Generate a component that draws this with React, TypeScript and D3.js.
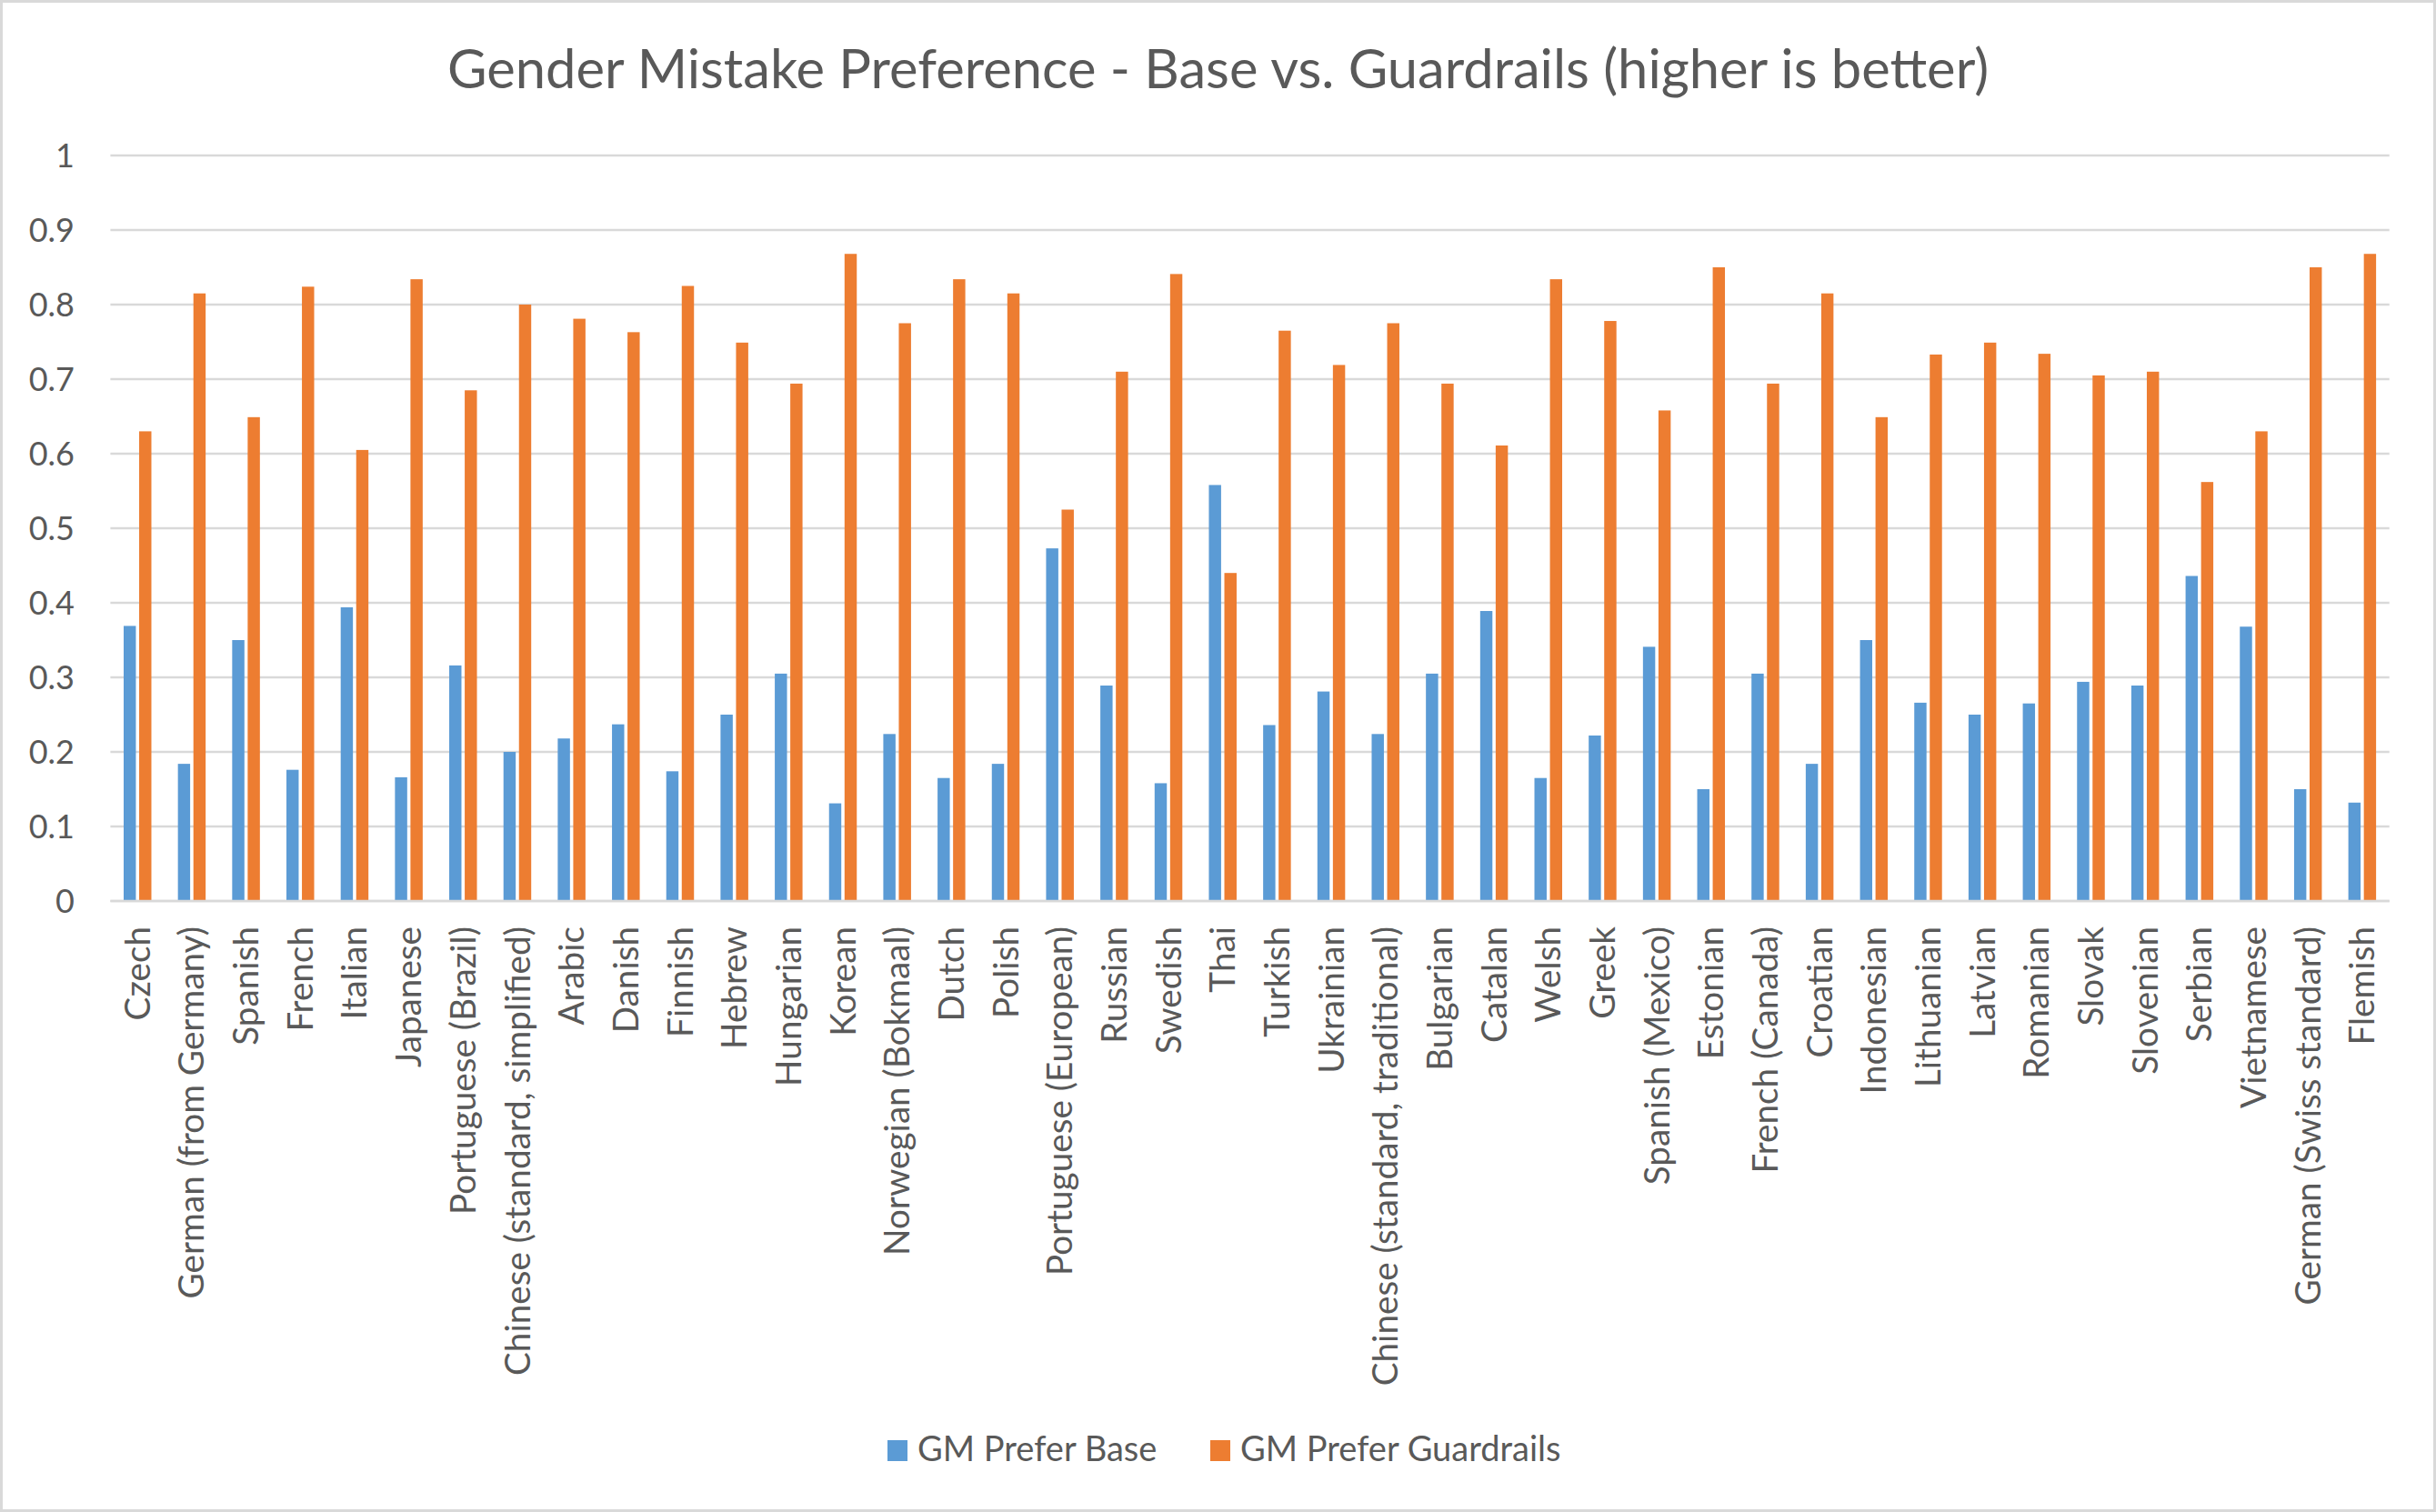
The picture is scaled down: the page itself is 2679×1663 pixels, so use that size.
import React from "react";
import * as d3 from "d3";

const categories = [
  "Czech", "German (from Germany)", "Spanish", "French", "Italian", "Japanese",
  "Portuguese (Brazil)", "Chinese (standard, simplified)", "Arabic", "Danish",
  "Finnish", "Hebrew", "Hungarian", "Korean", "Norwegian (Bokmaal)", "Dutch",
  "Polish", "Portuguese (European)", "Russian", "Swedish", "Thai", "Turkish",
  "Ukrainian", "Chinese (standard, traditional)", "Bulgarian", "Catalan", "Welsh",
  "Greek", "Spanish (Mexico)", "Estonian", "French (Canada)", "Croatian",
  "Indonesian", "Lithuanian", "Latvian", "Romanian", "Slovak", "Slovenian",
  "Serbian", "Vietnamese", "German (Swiss standard)", "Flemish",
];

const preferBase = [
  0.369, 0.184, 0.350, 0.176, 0.394, 0.166, 0.316, 0.200, 0.218, 0.237,
  0.174, 0.250, 0.305, 0.131, 0.224, 0.165, 0.184, 0.473, 0.289, 0.158,
  0.558, 0.236, 0.281, 0.224, 0.305, 0.389, 0.165, 0.222, 0.341, 0.150,
  0.305, 0.184, 0.350, 0.266, 0.250, 0.265, 0.294, 0.289, 0.436, 0.368,
  0.150, 0.132,
];

const preferGuardrails = [
  0.630, 0.815, 0.649, 0.824, 0.605, 0.834, 0.685, 0.800, 0.781, 0.763,
  0.825, 0.749, 0.694, 0.868, 0.775, 0.834, 0.815, 0.525, 0.710, 0.841,
  0.440, 0.765, 0.719, 0.775, 0.694, 0.611, 0.834, 0.778, 0.658, 0.850,
  0.694, 0.815, 0.649, 0.733, 0.749, 0.734, 0.705, 0.710, 0.562, 0.630,
  0.850, 0.868,
];

const seriesNames = ["GM Prefer Base", "GM Prefer Guardrails"];
const seriesColors = ["#5B9BD5", "#ED7D31"];
const yTicks = [0, 0.1, 0.2, 0.3, 0.4, 0.5, 0.6, 0.7, 0.8, 0.9, 1];
const title = "Gender Mistake Preference - Base vs. Guardrails (higher is better)";

const W = 2679;
const H = 1663;
const FONT = "Lato, 'Open Sans', sans-serif";
const TEXT = "#595959";
const GRID = "#D9D9D9";

export default function App() {
  const plotLeft = 121.4;
  const plotRight = 2627.7;
  const plotTop = 171;
  const plotBottom = 991;

  const x = d3.scaleBand<string>().domain(categories).range([plotLeft, plotRight]).paddingInner(0).paddingOuter(0);
  const x1 = d3
    .scaleBand<string>()
    .domain(seriesNames)
    .range([0, x.bandwidth()])
    .paddingInner(0.211)
    .paddingOuter(0.856);
  const y = d3.scaleLinear().domain([0, 1]).range([plotBottom, plotTop]);

  const series = [preferBase, preferGuardrails];
  const fmt = (v: number) => String(+v.toFixed(1));

  const legendItems = [
    { name: seriesNames[0], color: seriesColors[0], sx: 976, tx: 1009 },
    { name: seriesNames[1], color: seriesColors[1], sx: 1331, tx: 1364 },
  ];

  return (
    <svg
      width={W}
      height={H}
      viewBox={`0 0 ${W} ${H}`}
      style={{ position: "absolute", left: 0, top: 0, background: "#fff" }}
    >
      <rect x={1.5} y={1.5} width={W - 3} height={H - 3} fill="#fff" stroke={GRID} strokeWidth={3} />
      <text x={W / 2} y={97} textAnchor="middle" fontFamily={FONT} fontSize={59.7} fill={TEXT}>
        {title}
      </text>

      {yTicks.map((t) => (
        <g key={t}>
          <line x1={plotLeft} x2={plotRight} y1={y(t)} y2={y(t)} stroke={GRID} strokeWidth={2.6} />
          <text
            x={82}
            y={y(t)}
            dy="0.35em"
            textAnchor="end"
            fontFamily={FONT}
            fontSize={36}
            fill={TEXT}
          >
            {fmt(t)}
          </text>
        </g>
      ))}

      {categories.map((c, i) => (
        <g key={c} transform={`translate(${x(c)},0)`}>
          {series.map((vals, s) => (
            <rect
              key={s}
              x={x1(seriesNames[s])}
              y={y(vals[i])}
              width={x1.bandwidth()}
              height={y(0) - y(vals[i])}
              fill={seriesColors[s]}
            />
          ))}
        </g>
      ))}

      <line x1={plotLeft} x2={plotRight} y1={y(0)} y2={y(0)} stroke={GRID} strokeWidth={2.6} />

      {categories.map((c) => {
        const cx = (x(c) as number) + x.bandwidth() / 2;
        return (
          <text
            key={c}
            transform={`translate(${cx},1019) rotate(-90)`}
            textAnchor="end"
            dy="0.35em"
            fontFamily={FONT}
            fontSize={38.7}
            fill={TEXT}
          >
            {c}
          </text>
        );
      })}

      {legendItems.map((l) => (
        <g key={l.name}>
          <rect x={l.sx} y={1584} width={22} height={23} fill={l.color} />
          <text x={l.tx} y={1607} fontFamily={FONT} fontSize={38} fill={TEXT}>
            {l.name}
          </text>
        </g>
      ))}
    </svg>
  );
}
